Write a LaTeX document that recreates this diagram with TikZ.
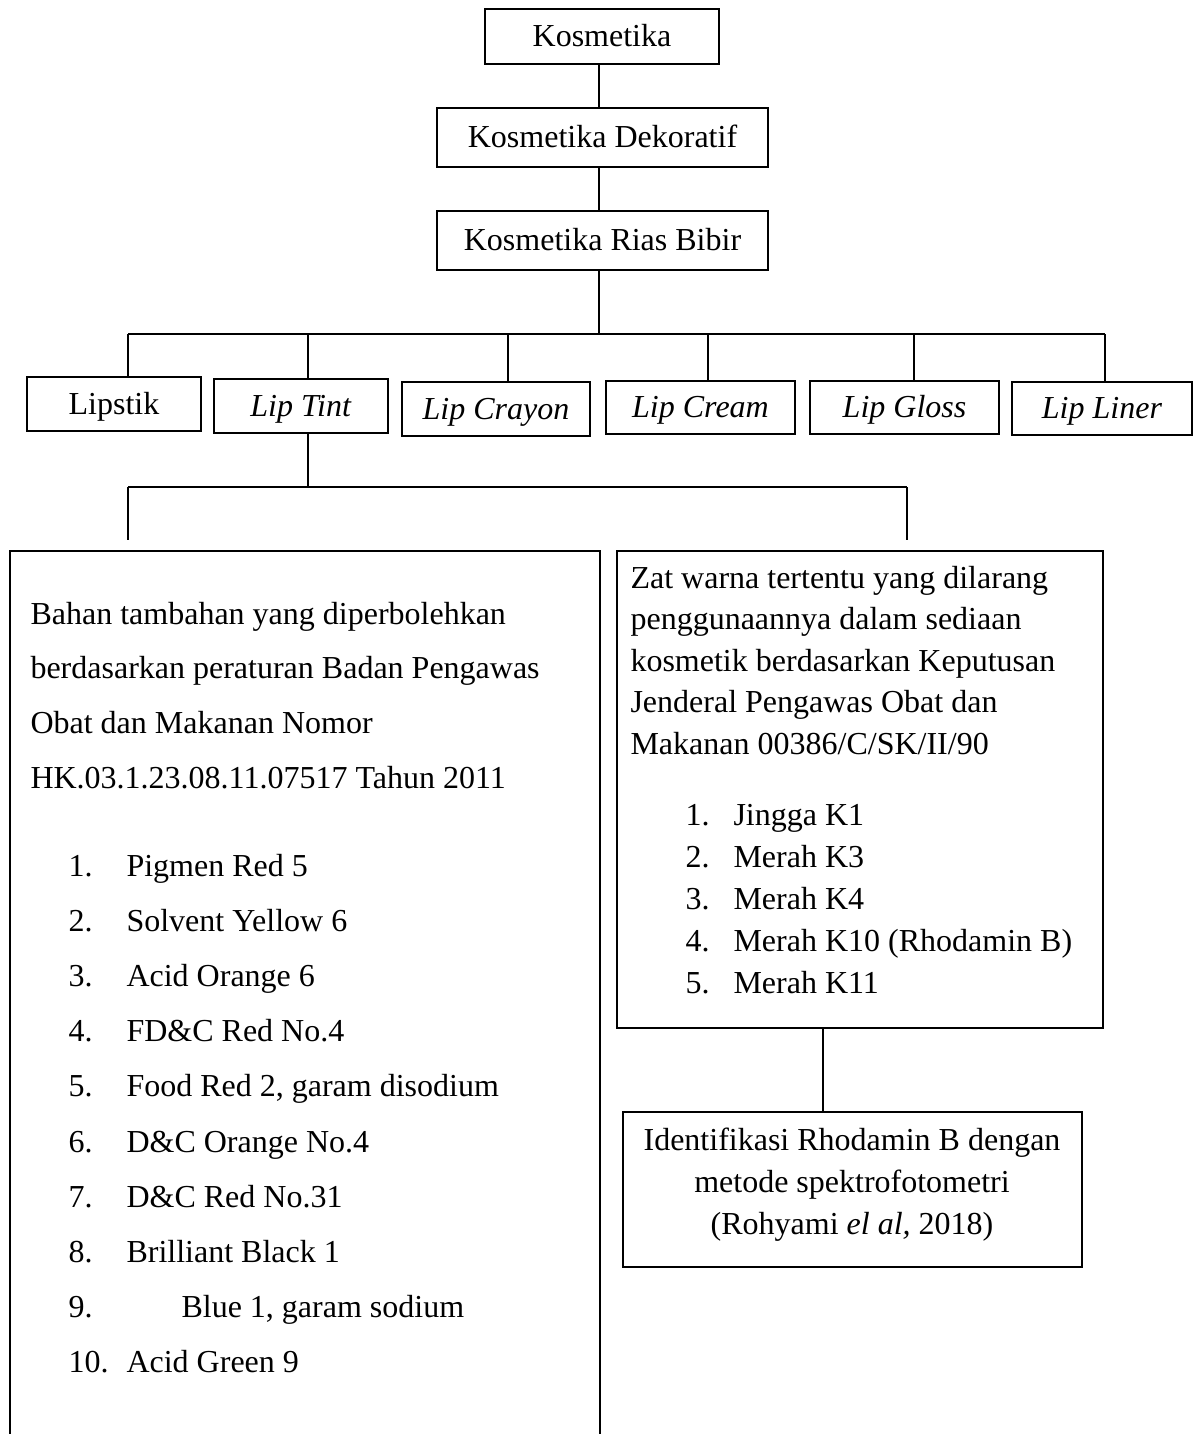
\documentclass[tikz,border=0pt]{standalone}
\usepackage{fontspec}
\setmainfont{Liberation Serif}
\usetikzlibrary{positioning}

\begin{document}
\begin{tikzpicture}[x=0.375pt, y=-0.375pt,
    font=\fontsize{12pt}{14pt}\selectfont,
    box/.style 2 args={draw, line width=0.7pt, inner sep=0pt,
      minimum width=#1*0.375pt, minimum height=#2*0.375pt,
      text height=1.1em, text depth=0.35em},
    wire/.style={line width=0.7pt},
    txt/.style={anchor=base west, inner sep=0pt},
    ctxt/.style={anchor=base, inner sep=0pt}]
  \useasboundingbox (0,0) rectangle (1198,1434);
  % top chain
  \node[box={234}{55}] (kos) at (602,36.5) {Kosmetika};
  \node[box={331}{59}] (dek) at (602.5,137.5) {Kosmetika Dekoratif};
  \node[box={331}{59}] (rias) at (602.5,240.5) {Kosmetika Rias Bibir};
  \coordinate (trunk) at (599,0);
  \draw[wire] (kos.south -| trunk) -- (dek.north -| trunk);
  \draw[wire] (dek.south -| trunk) -- (rias.north -| trunk);
  \coordinate (bus) at (599,334);
  \draw[wire] (rias.south -| trunk) -- (bus);
  \draw[wire] (bus -| 128,0) -- (bus -| 1105,0);
  % lip products
  \node[box={174}{54}] (lipstik) at (114,404) {Lipstik};
  \node[box={174}{54}] (tint) at (301,406) {\textit{Lip Tint}};
  \node[box={188}{54}] (crayon) at (496,409) {\textit{Lip Crayon}};
  \node[box={189}{53}] (cream) at (700.5,407.5) {\textit{Lip Cream}};
  \node[box={189}{53}] (gloss) at (904.5,407.5) {\textit{Lip Gloss}};
  \node[box={180}{53}] (liner) at (1102,408.5) {\textit{Lip Liner}};
  \foreach \n/\x in {lipstik/128, tint/308, crayon/508, cream/708, gloss/914, liner/1105}
    \draw[wire] (bus -| \x,0) -- (\n.north -| \x,0);
  % lip tint branches
  \coordinate (split) at (308,487);
  \draw[wire] (tint.south -| split) -- (split);
  \draw[wire] (split -| 128,0) -- (split -| 907,0);
  \coordinate (lefttop) at (128,540);
  \coordinate (righttop) at (907,540);
  \draw[wire] (split -| lefttop) -- (lefttop);
  \draw[wire] (split -| righttop) -- (righttop);
  % allowed colours (box runs off the page)
  \draw[wire] (10,1434) |- (600,551) -- (600,1434);
  \foreach \t [count=\k from 0] in {Bahan tambahan yang diperbolehkan,
      berdasarkan peraturan Badan Pengawas, Obat dan Makanan Nomor,
      HK.03.1.23.08.11.07517 Tahun 2011}
    \node[txt] (okpar\k) at (30,624+54.7*\k) {\t};
  \foreach \n/\x/\t [count=\k from 0] in {1./126/Pigmen Red 5,
      2./126/Solvent Yellow 6, 3./126/Acid Orange 6, 4./126/FD\&C Red No.4,
      5./126/{Food Red 2, garam disodium}, 6./126/D\&C Orange No.4,
      7./126/D\&C Red No.31, 8./126/Brilliant Black 1,
      9./181/{Blue 1, garam sodium}, 10./126/Acid Green 9}
    {\node[txt] (oknum\k) at (68,876+55.2*\k) {\n};
     \node[txt] (okitem\k) at (\x,876+55.2*\k) {\t};}
  % banned colours
  \node[box={486}{477}] (banned) at (860,789.5) {};
  \foreach \t [count=\k from 0] in {Zat warna tertentu yang dilarang,
      penggunaannya dalam sediaan, kosmetik berdasarkan Keputusan,
      Jenderal Pengawas Obat dan, Makanan 00386/C/SK/II/90}
    \node[txt] (nopar\k) at (630,588+41.5*\k) {\t};
  \foreach \n/\t [count=\k from 0] in {1./Jingga K1, 2./Merah K3,
      3./Merah K4, 4./Merah K10 (Rhodamin B), 5./Merah K11}
    {\node[txt] (nonum\k) at (685,825+42*\k) {\n};
     \node[txt] (noitem\k) at (733,825+42*\k) {\t};}
  % identification
  \node[box={459}{155}] (rhod) at (852.5,1189.5) {};
  \node[ctxt] (rhod1) at (852,1150) {Identifikasi Rhodamin B dengan};
  \node[ctxt] (rhod2) at (852,1192) {metode spektrofotometri};
  \node[ctxt] (rhod3) at (852,1234) {(Rohyami \textit{el al,} 2018)};
  \draw[wire] (banned.south -| 823,0) -- (rhod.north -| 823,0);
\end{tikzpicture}
\end{document}
